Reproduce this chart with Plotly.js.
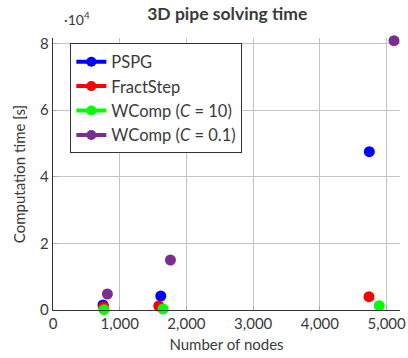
<!DOCTYPE html>
<html><head><meta charset="utf-8">
<script src="https://cdn.plot.ly/plotly-3.0.1.min.js"></script>
<style>html,body{margin:0;padding:0;background:#fff}#c{width:408px;height:358px}</style>
</head><body><div id="c"></div>
<script>
const seriesNames = ["PSPG", "FractStep", "WComp (<i>C</i> = 10)", "WComp (<i>C</i> = 0.1)"];
const seriesColors = ["#0000ff", "#ff0000", "#00ff00", "#7b2e8e"];
const pspgNodes = [750, 1615, 4740];
const pspgTime = [1500, 4200, 47500];
const fractNodes = [760, 1585, 4735];
const fractTime = [900, 1200, 4000];
const wc10Nodes = [765, 1650, 4890];
const wc10Time = [100, 300, 1300];
const wc01Nodes = [815, 1760, 5110];
const wc01Time = [4800, 15000, 80800];
const yTickVals = [0, 20000, 40000, 60000, 80000];
const yTickText = ["0", "2", "4", "6", "8"];
const xTickVals = [0, 1000, 2000, 3000, 4000, 5000];
const xTickText = ["0", "1,000", "2,000", "3,000", "4,000", "5,000"];

const xs = [pspgNodes, fractNodes, wc10Nodes, wc01Nodes];
const ys = [pspgTime, fractTime, wc10Time, wc01Time];
const font = "Lato, 'Open Sans', sans-serif";
const txt = "#3a3a3a";
const traces = [];
for (let i = 0; i < 4; i++) {
  traces.push({x: xs[i], y: ys[i], type: "scatter", mode: "markers", showlegend: false,
    marker: {color: seriesColors[i], size: 11}, cliponaxis: false, hoverinfo: "skip"});
}
for (let i = 0; i < 4; i++) {
  traces.push({x: [null], y: [null], type: "scatter", mode: "lines+markers", name: seriesNames[i],
    line: {color: seriesColors[i], width: 4}, marker: {color: seriesColors[i], size: 10}});
}
const layout = {
  width: 408, height: 358,
  margin: {l: 53, r: 8, t: 38, b: 48},
  paper_bgcolor: "#fff", plot_bgcolor: "#fff",
  font: {family: font, size: 15, color: txt},
  title: {text: "<b>3D pipe solving time</b>", font: {family: font, size: 17.5, color: txt}, x: 0.557, xanchor: "center", y: 0.978, yanchor: "top"},
  xaxis: {range: [0, 5200], tickvals: xTickVals, ticktext: xTickText, showgrid: true, gridcolor: "#c4c4c4", gridwidth: 1,
    zeroline: false, showline: true, linecolor: "#333", linewidth: 1.3, ticks: "inside", ticklen: 4, tickcolor: "#aaa",
    tickfont: {size: 15, color: txt}, title: {text: "Number of nodes", font: {size: 15, color: txt}, standoff: 8}},
  yaxis: {range: [0, 81600], tickvals: yTickVals, ticktext: yTickText, showgrid: true, gridcolor: "#c4c4c4", gridwidth: 1,
    zeroline: false, showline: true, linecolor: "#333", linewidth: 1.3, ticks: "inside", ticklen: 4, tickcolor: "#aaa",
    tickfont: {size: 15, color: txt}, title: {text: "Computation time [s]", font: {size: 15, color: txt}, standoff: 10}},
  legend: {x: 0.05, y: 0.98, xanchor: "left", yanchor: "top", bgcolor: "#fff", bordercolor: "#333", borderwidth: 1,
    font: {size: 16.5, color: txt}, itemwidth: 30, tracegroupgap: 0},
  annotations: [{text: "·10<sup>4</sup>", xref: "paper", yref: "paper", x: 0.026, y: 1.03, xanchor: "left", yanchor: "bottom",
    showarrow: false, font: {size: 14, color: txt}}],
  showlegend: true
};
Plotly.newPlot("c", traces, layout, {staticPlot: true});
</script></body></html>
